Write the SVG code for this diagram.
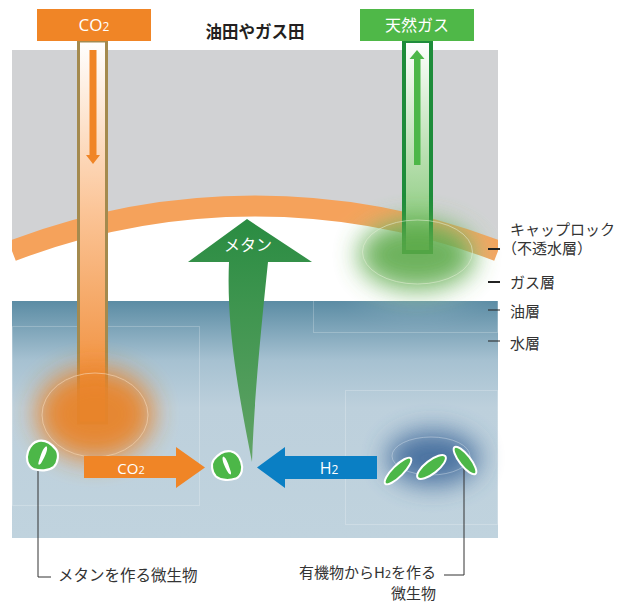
<svg xmlns="http://www.w3.org/2000/svg" width="626" height="603" viewBox="0 0 626 603">
  <defs>
    <style>
      .jp { font-family: "Noto Sans CJK JP", "Noto Sans", sans-serif; }
      .lbl { font-family: "Noto Sans CJK JP", sans-serif; font-size: 15px; fill: #333; }
      .cap { font-family: "Noto Sans CJK JP", sans-serif; font-size: 15.5px; fill: #333; }
      .cap2 { font-family: "Noto Sans CJK JP", sans-serif; font-size: 15px; fill: #333; }
      .chem { font-family: "Open Sans", "Noto Sans", sans-serif; fill: #fff; }
      .microbe { fill: #4cb748; stroke: #fff; stroke-width: 2; stroke-linejoin: round; }
      .lead { stroke: #333; stroke-width: 1; fill: none; }
      .tick { stroke: #222; fill: none; }
      .faint { fill: none; stroke: #fff; stroke-opacity: 0.22; stroke-width: 1; }
    </style>
    <clipPath id="panel">
      <rect x="12" y="50" width="486" height="488"/>
    </clipPath>
    <linearGradient id="co2Pipe" x1="0" y1="41" x2="0" y2="423" gradientUnits="userSpaceOnUse">
      <stop offset="0" stop-color="#ffffff"/>
      <stop offset="0.45" stop-color="#fbc496"/>
      <stop offset="1" stop-color="#ee8429"/>
    </linearGradient>
    <linearGradient id="gasPipe" x1="0" y1="41" x2="0" y2="252" gradientUnits="userSpaceOnUse">
      <stop offset="0" stop-color="#ffffff"/>
      <stop offset="1" stop-color="#7dc46e"/>
    </linearGradient>
    <linearGradient id="water" x1="0" y1="301" x2="0" y2="538" gradientUnits="userSpaceOnUse">
      <stop offset="0" stop-color="#5b8ca4"/>
      <stop offset="0.25" stop-color="#a6c1d1"/>
      <stop offset="0.45" stop-color="#bdd0dc"/>
      <stop offset="1" stop-color="#c0d3de"/>
    </linearGradient>
    <linearGradient id="methane" x1="0" y1="219" x2="0" y2="462" gradientUnits="userSpaceOnUse">
      <stop offset="0" stop-color="#2a8c42"/>
      <stop offset="1" stop-color="#62a466"/>
    </linearGradient>
    <filter id="glow" x="-60%" y="-60%" width="220%" height="220%">
      <feGaussianBlur stdDeviation="13"/>
    </filter>
    <filter id="haze" x="-60%" y="-60%" width="220%" height="220%">
      <feGaussianBlur stdDeviation="18"/>
    </filter>
    <!-- methanogen body: rounded pentagon with a white sliver -->
    <g id="methanogen">
      <path class="microbe" d="M-3,-14 C3,-15 9,-11 13,-6 C16,-2 15,6 11,10 C6,14 -2,14 -8,12 C-14,9 -15,2 -13,-4 C-11,-10 -8,-13 -3,-14 Z"/>
      <path fill="#fff" d="M4,-9 C6,-8 4,-1 -1,7 C-3,9 -4,8 -3,5 C-1,-1 1,-8 4,-9 Z"/>
    </g>
  </defs>

  <!-- strata -->
  <g id="strata" clip-path="url(#panel)">
    <rect x="12" y="50" width="486" height="251" fill="#d1d2d4"/>
    <path d="M12,251 A678,678 0 0 1 498,251 L498,301 L12,301 Z" fill="#ffffff"/>
    <rect x="12" y="301" width="486" height="237" fill="url(#water)"/>
    <rect class="faint" x="12.5" y="326.5" width="187" height="179"/>
    <rect class="faint" x="313.5" y="260.5" width="184" height="72"/>
    <rect class="faint" x="345.5" y="390.5" width="152" height="134"/>
    <!-- cap rock -->
    <path id="caprock" d="M12,251 A678,678 0 0 1 498,251" fill="none" stroke="#f5a25b" stroke-width="21"/>
  </g>

  <!-- natural gas well -->
  <g id="gas-well">
    <ellipse cx="417" cy="262" rx="62" ry="34" fill="#ffffff" opacity="0.5" filter="url(#haze)"/>
    <rect x="404" y="41" width="27" height="211" fill="url(#gasPipe)" stroke="#1e8c3a" stroke-width="4"/>
    <ellipse cx="417" cy="255" rx="58" ry="35" fill="#5aa846" opacity="0.88" filter="url(#glow)"/>
    <ellipse cx="417.5" cy="252" rx="55" ry="32" fill="none" stroke="#e3efd6" stroke-opacity="0.55" stroke-width="1"/>
    <path d="M414,165 V59 H409.5 L417,50 L424.5,59 H420.5 V165 Z" fill="#4cb748"/>
    <rect x="360" y="9" width="114" height="32" fill="#4fb848"/>
    <text class="jp" x="417" y="30.5" font-size="16" fill="#fff" text-anchor="middle">天然ガス</text>
  </g>

  <!-- CO2 injection well -->
  <g id="co2-well">
    <rect x="78.5" y="41" width="28" height="382" fill="url(#co2Pipe)" stroke="#a48a4e" stroke-width="3"/>
    <path d="M89.5,50 V155 H86 L93,164 L100,155 H96.5 V50 Z" fill="#f08526"/>
    <ellipse cx="95" cy="414" rx="58" ry="46" fill="#e8842a" opacity="0.95" filter="url(#glow)"/>
    <ellipse cx="95" cy="415" rx="53" ry="42" fill="none" stroke="#f6d9b8" stroke-opacity="0.6" stroke-width="1"/>
    <rect x="37" y="9" width="114" height="32" fill="#f08526"/>
    <text class="chem" x="94" y="31" font-size="17" text-anchor="middle">CO<tspan font-size="12">2</tspan></text>
  </g>

  <!-- H2 producer glow -->
  <g id="h2-glow">
    <ellipse cx="433" cy="458" rx="46" ry="27" fill="#3d679a" opacity="0.9" filter="url(#glow)"/>
    <ellipse cx="431" cy="456" rx="39" ry="19" fill="none" stroke="#c8d6e4" stroke-opacity="0.5" stroke-width="1"/>
  </g>

  <!-- connectors -->
  <g id="connectors">
    <path id="methane-arrow" d="M247,219 L312,262 L268,262 C262,320 254,400 252,462 C240,400 226,330 229,262 L188,262 Z" fill="url(#methane)"/>
    <text class="jp" x="248" y="251" font-size="16" fill="#fff" text-anchor="middle">メタン</text>
    <path id="co2-arrow" d="M84,456 H176 V447 L205,467.5 L176,488 V478 H84 Z" fill="#f08526"/>
    <text class="chem" x="131" y="473.5" font-size="15" text-anchor="middle">CO<tspan font-size="11">2</tspan></text>
    <path id="h2-arrow" d="M377,456 H285 V447 L257,467.5 L285,488 V479 H377 Z" fill="#0a7fc4"/>
    <text class="chem" x="329" y="474" font-size="16" text-anchor="middle">H<tspan font-size="12">2</tspan></text>
    <path class="lead" d="M38,470 V577 H51"/>
    <path class="lead" d="M464,462 V575 H444"/>
  </g>

  <!-- methanogens -->
  <g id="microbe-left">
    <use href="#methanogen" transform="translate(42,456) scale(1.08)"/>
  </g>
  <g id="microbe-center">
    <use href="#methanogen" transform="translate(227.5,466) scale(-1.05,1.05)"/>
  </g>

  <!-- H2 producing microbes -->
  <g id="h2-microbes">
    <ellipse class="microbe" cx="398" cy="471" rx="18" ry="5.5" transform="rotate(-45 398 471)"/>
    <ellipse class="microbe" cx="431.5" cy="467" rx="17.5" ry="6.5" transform="rotate(-38 431.5 467)"/>
    <ellipse class="microbe" cx="465" cy="460.5" rx="17" ry="5.5" transform="rotate(52 465 460.5)"/>
  </g>

  <!-- titles and layer labels -->
  <g id="labels">
    <text class="jp" x="255" y="38" font-size="16.5" font-weight="bold" fill="#231f20" text-anchor="middle">油田やガス田</text>
    <path class="tick" d="M488,249 H500 M488,282 H500" stroke-width="2"/>
    <path class="tick" d="M488,310 H500 M488,341 H500" stroke-width="1" stroke="#444"/>
    <text class="lbl" x="510" y="235">キャップロック</text>
    <text class="lbl" x="502" y="254">（不透水層）</text>
    <text class="lbl" x="510" y="288">ガス層</text>
    <text class="lbl" x="510" y="317">油層</text>
    <text class="lbl" x="510" y="349">水層</text>
    <text class="cap" x="58" y="581">メタンを作る微生物</text>
    <text class="cap2" x="436" y="578" text-anchor="end">有機物からH<tspan font-size="11">2</tspan>を作る</text>
    <text class="cap2" x="436" y="599" text-anchor="end">微生物</text>
  </g>
</svg>
